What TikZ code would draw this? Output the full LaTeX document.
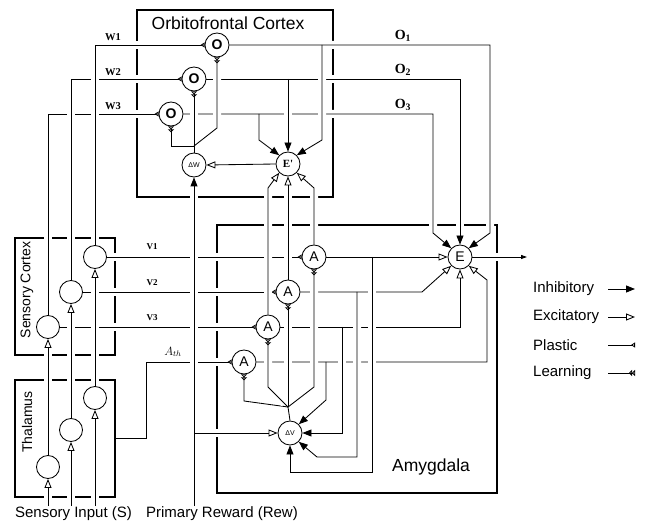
\documentclass[tikz,border=0pt]{standalone}
\usepackage{fontspec}
\setmainfont{Liberation Sans}
\newfontfamily\tnr{Liberation Serif}
\usepackage{tikz}
\usetikzlibrary{arrows.meta, calc, backgrounds}
\pgfdeclarelayer{front}
\pgfsetlayers{background,main,front}

\begin{document}
\begin{tikzpicture}[x=1pt, y=-1pt,
	wire/.style={line width=0.85pt},
	over/.style={preaction={draw=white, -, line width=8pt, shorten <=5pt, shorten >=5pt}},
	inh/.style={wire, -{Triangle[length=9pt, width=7pt]}},
	exc/.style={wire, -{Triangle[open, length=9pt, width=7pt]}},
	plas/.style={wire, -{Triangle[open, reversed, length=4pt, width=5pt]}},
	learn/.style={wire, -{Triangle[open, reversed, length=3pt, width=6pt, sep=0pt] Triangle[open, reversed, length=3pt, width=6pt]}},
	outarr/.style={wire, -{Triangle[length=6pt, width=4pt]}},
	region/.style={draw, line width=2.8pt, inner sep=0pt},
	neuron/.style={circle, draw, wire, fill=white, minimum size=24pt, inner sep=0pt},
	big/.style={font=\fontsize{17.5}{18}\selectfont, inner sep=0pt},
	mid/.style={font=\fontsize{15}{15}\selectfont, inner sep=0pt},
	tag/.style={font=\tnr\bfseries\fontsize{10.5}{11}\selectfont, inner sep=0pt},
	]
	\useasboundingbox (0,0) rectangle (656,526);
	
	% 区域方框
	\node[region, minimum width=196pt, minimum height=187pt] (ofc) at (235,103.5) {};
	\node[region, minimum width=280pt, minimum height=268pt] (amy) at (357,359) {};
	\node[region, minimum width=100pt, minimum height=117pt] (sc) at (65,296.5) {};
	\node[region, minimum width=100pt, minimum height=117pt] (thal) at (65,438.5) {};
	\node[big] (ofctitle) at (228,23) {Orbitofrontal Cortex};
	\node[big] (amytitle) at (431,467) {Amygdala};
	\node[mid, font=\fontsize{14}{14}\selectfont, rotate=90] (sctitle) at (27,290) {Sensory Cortex};
	\node[mid, font=\fontsize{14}{14}\selectfont, rotate=90] (thtitle) at (27,422) {Thalamus};
	\node[mid] (inlabel) at (73.5,514) {Sensory Input (S)};
	\node[mid] (rewlabel) at (222,514) {Primary Reward (Rew)};
	
	% 神经元
	\begin{pgfonlayer}{front}
		\node[neuron, font=\fontsize{14}{14}\selectfont\bfseries] (o1) at (217,45) {O};
		\node[neuron, font=\fontsize{14}{14}\selectfont\bfseries] (o2) at (194,79) {O};
		\node[neuron, font=\fontsize{14}{14}\selectfont\bfseries] (o3) at (171,114) {O};
		\node[neuron, font=\fontsize{7}{7}\selectfont] (dw) at (194,165) {ΔW};
		\node[neuron, font=\tnr\bfseries\fontsize{11}{11}\selectfont] (ep) at (288,164) {E'};
		\node[neuron, minimum size=23pt] (sc1) at (95,257) {};
		\node[neuron, minimum size=23pt] (sc2) at (71,292) {};
		\node[neuron, minimum size=23pt] (sc3) at (48,327) {};
		\node[neuron, minimum size=23pt] (th1) at (95,398) {};
		\node[neuron, minimum size=23pt] (th2) at (71,430) {};
		\node[neuron, minimum size=23pt] (th3) at (48,467) {};
		\node[neuron, font=\fontsize{14}{14}\selectfont] (a1) at (314,257) {A};
		\node[neuron, font=\fontsize{14}{14}\selectfont] (a2) at (288,292) {A};
		\node[neuron, font=\fontsize{14}{14}\selectfont] (a3) at (268,327) {A};
		\node[neuron, font=\fontsize{14}{14}\selectfont] (a4) at (244,362) {A};
		\node[neuron, font=\fontsize{7}{7}\selectfont] (dv) at (290,433) {ΔV};
		\node[neuron, font=\fontsize{14}{14}\selectfont] (e) at (460,257) {E};
	\end{pgfonlayer}
	
	% 连接点
	\coordinate (s1) at (95,506);
	\coordinate (s2) at (71,506);
	\coordinate (s3) at (48,506);
	\coordinate (rew) at (194,506);
	\coordinate (rewj) at (194,433);
	\coordinate (oj1) at (322,45);
	\coordinate (oj2) at (288,79);
	\coordinate (oj3) at (259,114);
	\coordinate (wj) at (194,146);
	\coordinate (lj) at (288,407);
	\coordinate (b1) at (372,257);
	\coordinate (b2) at (357,292);
	\coordinate (b3) at (342,327);
	\coordinate (b4) at (326,362);
	\coordinate (eout) at (527,257);
	
	% 标注
	\node[tag] (w1) at (113,37) {W1};
	\node[tag] (w2) at (113,72) {W2};
	\node[tag] (w3) at (113,106) {W3};
	\node[tag, font=\tnr\bfseries\fontsize{14}{14}\selectfont] (out1) at (403,36) {O\textsubscript{1}};
	\node[tag, font=\tnr\bfseries\fontsize{14}{14}\selectfont] (out2) at (403,70) {O\textsubscript{2}};
	\node[tag, font=\tnr\bfseries\fontsize{14}{14}\selectfont] (out3) at (403,105) {O\textsubscript{3}};
	\node[tag, font=\tnr\bfseries\fontsize{9}{9}\selectfont] (v1) at (152,247) {V1};
	\node[tag, font=\tnr\bfseries\fontsize{9}{9}\selectfont] (v2) at (152,283) {V2};
	\node[tag, font=\tnr\bfseries\fontsize{9}{9}\selectfont] (v3) at (152,318) {V3};
	\node[inner sep=0pt, font=\fontsize{12}{12}\selectfont] (ath) at (173,352) {$A_{th}$};
	
	% 眶额皮层输出
	\draw[inh, over] (o3.east) -- (433,114) -- (433,233) -- (e.north west);
	\draw[inh, over] (o2.east) -| (e.north);
	\draw[inh, over] (o1.east) -- (490,45) -- (490,233) -- (e.north east);
	\draw[inh, over] (oj3) -- (259,140) -- (ep.north west);
	\draw[inh, over] (oj2) -- (ep.north);
	\draw[inh, over] (oj1) -- (322,140) -- (ep.north east);
	\draw[learn, over] (dw.north) -- (o2.south);
	\draw[learn, over] (wj) -- (171,146) -- (o3.south);
	\draw[learn, over] (wj) -- (217,128) -- (o1.south);
	\draw[exc] (ep.west) -- (dw.east);
	
	% 感觉皮层和丘脑到杏仁核
	\draw[plas, over] (sc3.east) -- (a3.west);
	\draw[plas, over] (sc2.east) -- (a2.west);
	\draw[plas, over] (sc1.east) -- (a1.west);
	\draw[plas, over] (thal.east) -- ++(30,0) |- (a4.west);
	
	% 感觉输入
	\foreach \i in {1,2,3} {
		\draw[exc, over] (s\i) -- (th\i.south);
		\draw[exc, over] (th\i.north) -- (sc\i.south);
	}
	\draw[plas, over] (sc3.north) |- (o3.west);
	\draw[plas, over] (sc2.north) |- (o2.west);
	\draw[plas, over] (sc1.north) |- (o1.west);
	
	% 奖赏
	\draw[inh, over] (rew) -- (dw.south);
	\draw[exc, over] (rewj) -- (dv.west);
	
	% 杏仁核到 E' 和 E
	\draw[exc, over] (a3.north) -- (268,188) -- (ep.south west);
	\draw[exc, over] (a2.north) -- (ep.south);
	\draw[exc, over] (a1.north) -- (314,188) -- (ep.south east);
	\draw[exc, over] (a1.east) -- (e.west);
	\draw[exc, over] (a2.east) -- (422,292) -- (e.south west);
	\draw[exc, over] (a3.east) -| (e.south);
	\draw[exc, over] (a4.east) -- (487,362) -- (487,280) -- (e.south east);
	
	% 抑制 ΔV
	\draw[inh, over] (b1) -- (372,472) -| (dv.south);
	\draw[inh, over] (b2) -- (357,457) -- (317,457) -- (dv.south east);
	\draw[inh, over] (b3) |- (dv.east);
	\draw[inh, over] (b4) -- (326,400) -- (dv.north east);
	
	% 学习信号
	\draw[learn, over] (dv.north) -- (lj) -- (244,401) -- (a4.south);
	\draw[learn, over] (lj) -- (268,387) -- (a3.south);
	\draw[learn, over] (lj) -- (a2.south);
	\draw[learn, over] (lj) -- (314,387) -- (a1.south);
	
	\draw[outarr, over] (e.east) -- (eout);
	
	% 图例
	\node[mid, anchor=west] (lginh) at (533,289) {Inhibitory};
	\node[mid, anchor=west] (lgexc) at (533,317) {Excitatory};
	\node[mid, anchor=west] (lgpla) at (533,345) {Plastic};
	\node[mid, anchor=west] (lglea) at (533,373) {Learning};
	\coordinate (lgx) at (608,0);
	\draw[inh] (lginh.east -| lgx) -- ++(27,0);
	\draw[exc] (lgexc.east -| lgx) -- ++(27,0);
	\draw[plas] (lgpla.east -| lgx) -- ++(27,0);
	\draw[learn] (lglea.east -| lgx) -- ++(27,0);
\end{tikzpicture}
\end{document}
